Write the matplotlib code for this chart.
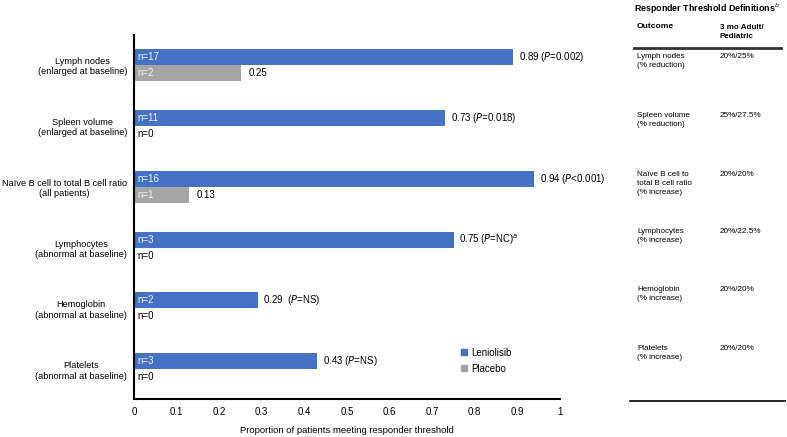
import matplotlib.pyplot as plt
from matplotlib.patches import Patch

plt.rcParams['font.family'] = ['Liberation Sans', 'DejaVu Sans']

# データ
categories = ["Lymph nodes\n(enlarged at baseline)",
              "Spleen volume\n(enlarged at baseline)",
              "Naïve B cell to total B cell ratio\n(all patients)",
              "Lymphocytes\n(abnormal at baseline)",
              "Hemoglobin\n(abnormal at baseline)",
              "Platelets\n(abnormal at baseline)"]
leniolisib = [0.89, 0.73, 0.94, 0.75, 0.29, 0.43]
placebo = [0.25, 0.0, 0.13, 0.0, 0.0, 0.0]
n_leniolisib = [17, 11, 16, 3, 2, 3]
n_placebo = [2, 0, 1, 0, 0, 0]
len_labels = ["0.89 ($\\it{P}$=0.002)", "0.73 ($\\it{P}$=0.018)", "0.94 ($\\it{P}$<0.001)",
              "0.75 ($\\it{P}$=NC)$^{a}$", "0.29  ($\\it{P}$=NS)", "0.43 ($\\it{P}$=NS)"]
pla_labels = ["0.25", "", "0.13", "", "", ""]

outcomes = ["Lymph nodes\n(% reduction)", "Spleen volume\n(% reduction)",
            "Naïve B cell to\ntotal B cell ratio\n(% increase)",
            "Lymphocytes\n(% increase)", "Hemoglobin\n(% increase)",
            "Platelets\n(% increase)"]
thresholds = ["20%/25%", "25%/27.5%", "20%/20%", "20%/22.5%", "20%/20%", "20%/20%"]

blue = "#4472C4"
gray = "#A5A5A5"

fig = plt.figure(figsize=(7.87, 4.37), dpi=100)
ax = fig.add_axes([134 / 787, 1 - 399 / 437, 426 / 787, 364 / 437])

h = 0.263
ys = list(range(len(categories)))
y_len = [y - h / 2 for y in ys]
y_pla = [y + h / 2 for y in ys]
ax.barh(y_len, leniolisib, height=h, color=blue)
ax.barh(y_pla, placebo, height=h, color=gray)

# ラベル
for yl, yp, v, p, nl, npl, tl, tp in zip(y_len, y_pla, leniolisib, placebo,
                                          n_leniolisib, n_placebo, len_labels, pla_labels):
    ax.text(0.007, yl, f"n={nl}", va='center', ha='left', fontsize=7, color='#f0f2fa')
    if npl > 0:
        ax.text(0.007, yp, f"n={npl}", va='center', ha='left', fontsize=7, color='#f2f2f2')
        ax.text(p + 0.018, yp, tp, va='center', ha='left', fontsize=7)
    else:
        ax.text(0.007, yp, f"n={npl}", va='center', ha='left', fontsize=7, color='black')
    ax.text(v + 0.013, yl, tl, va='center', ha='left', fontsize=7)

ax.set_xlim(0, 1)
ax.set_ylim(5.49, -0.493)
ax.set_xticks([i / 10 for i in range(11)])
ax.set_xticklabels(["0", "0.1", "0.2", "0.3", "0.4", "0.5", "0.6", "0.7", "0.8", "0.9", "1"])
ax.set_yticks(ys)
ax.set_yticklabels(categories, multialignment='center', fontsize=6.6)
ax.tick_params(axis='both', length=0)
ax.tick_params(axis='x', pad=6, labelsize=7)
ax.tick_params(axis='y', pad=5)
for s in ['top', 'right']:
    ax.spines[s].set_visible(False)
for s in ['left', 'bottom']:
    ax.spines[s].set_linewidth(1.5)
ax.set_xlabel("Proportion of patients meeting responder threshold", fontsize=6.8, labelpad=6)

handles = [Patch(color=blue, label="Leniolisib"), Patch(color=gray, label="Placebo")]
ax.legend(handles=handles, loc='upper left', bbox_to_anchor=(0.748, 0.165), frameon=False,
          fontsize=7, handlelength=0.6, handleheight=0.6, handletextpad=0.4, labelspacing=0.6)

# 右側の表
fig.text(634 / 787, 1 - 9 / 437, "Responder Threshold Definitions$^{b}$", fontsize=6.4,
         fontweight='bold', va='center', ha='left')
fig.text(637 / 787, 1 - 27 / 437, "Outcome", fontsize=6.1, fontweight='bold', va='center')
fig.text(720 / 787, 1 - 32 / 437, "3 mo Adult/\nPediatric", fontsize=5.8, fontweight='bold',
         va='center', linespacing=1.35)
fig.add_artist(plt.Line2D([634 / 787, 781 / 787], [1 - 48 / 437, 1 - 48 / 437], color='#333333', lw=2))
fig.add_artist(plt.Line2D([630 / 787, 785 / 787], [1 - 401 / 437, 1 - 401 / 437], color='black', lw=1.2))
row_top = [53, 112, 171, 228, 286, 345]
for yt, o, t in zip(row_top, outcomes, thresholds):
    fig.text(637 / 787, 1 - yt / 437, o, fontsize=5.8, va='top', linespacing=1.4)
    fig.text(720 / 787, 1 - yt / 437, t, fontsize=5.9, va='top')

fig.savefig("out.png", dpi=100)
